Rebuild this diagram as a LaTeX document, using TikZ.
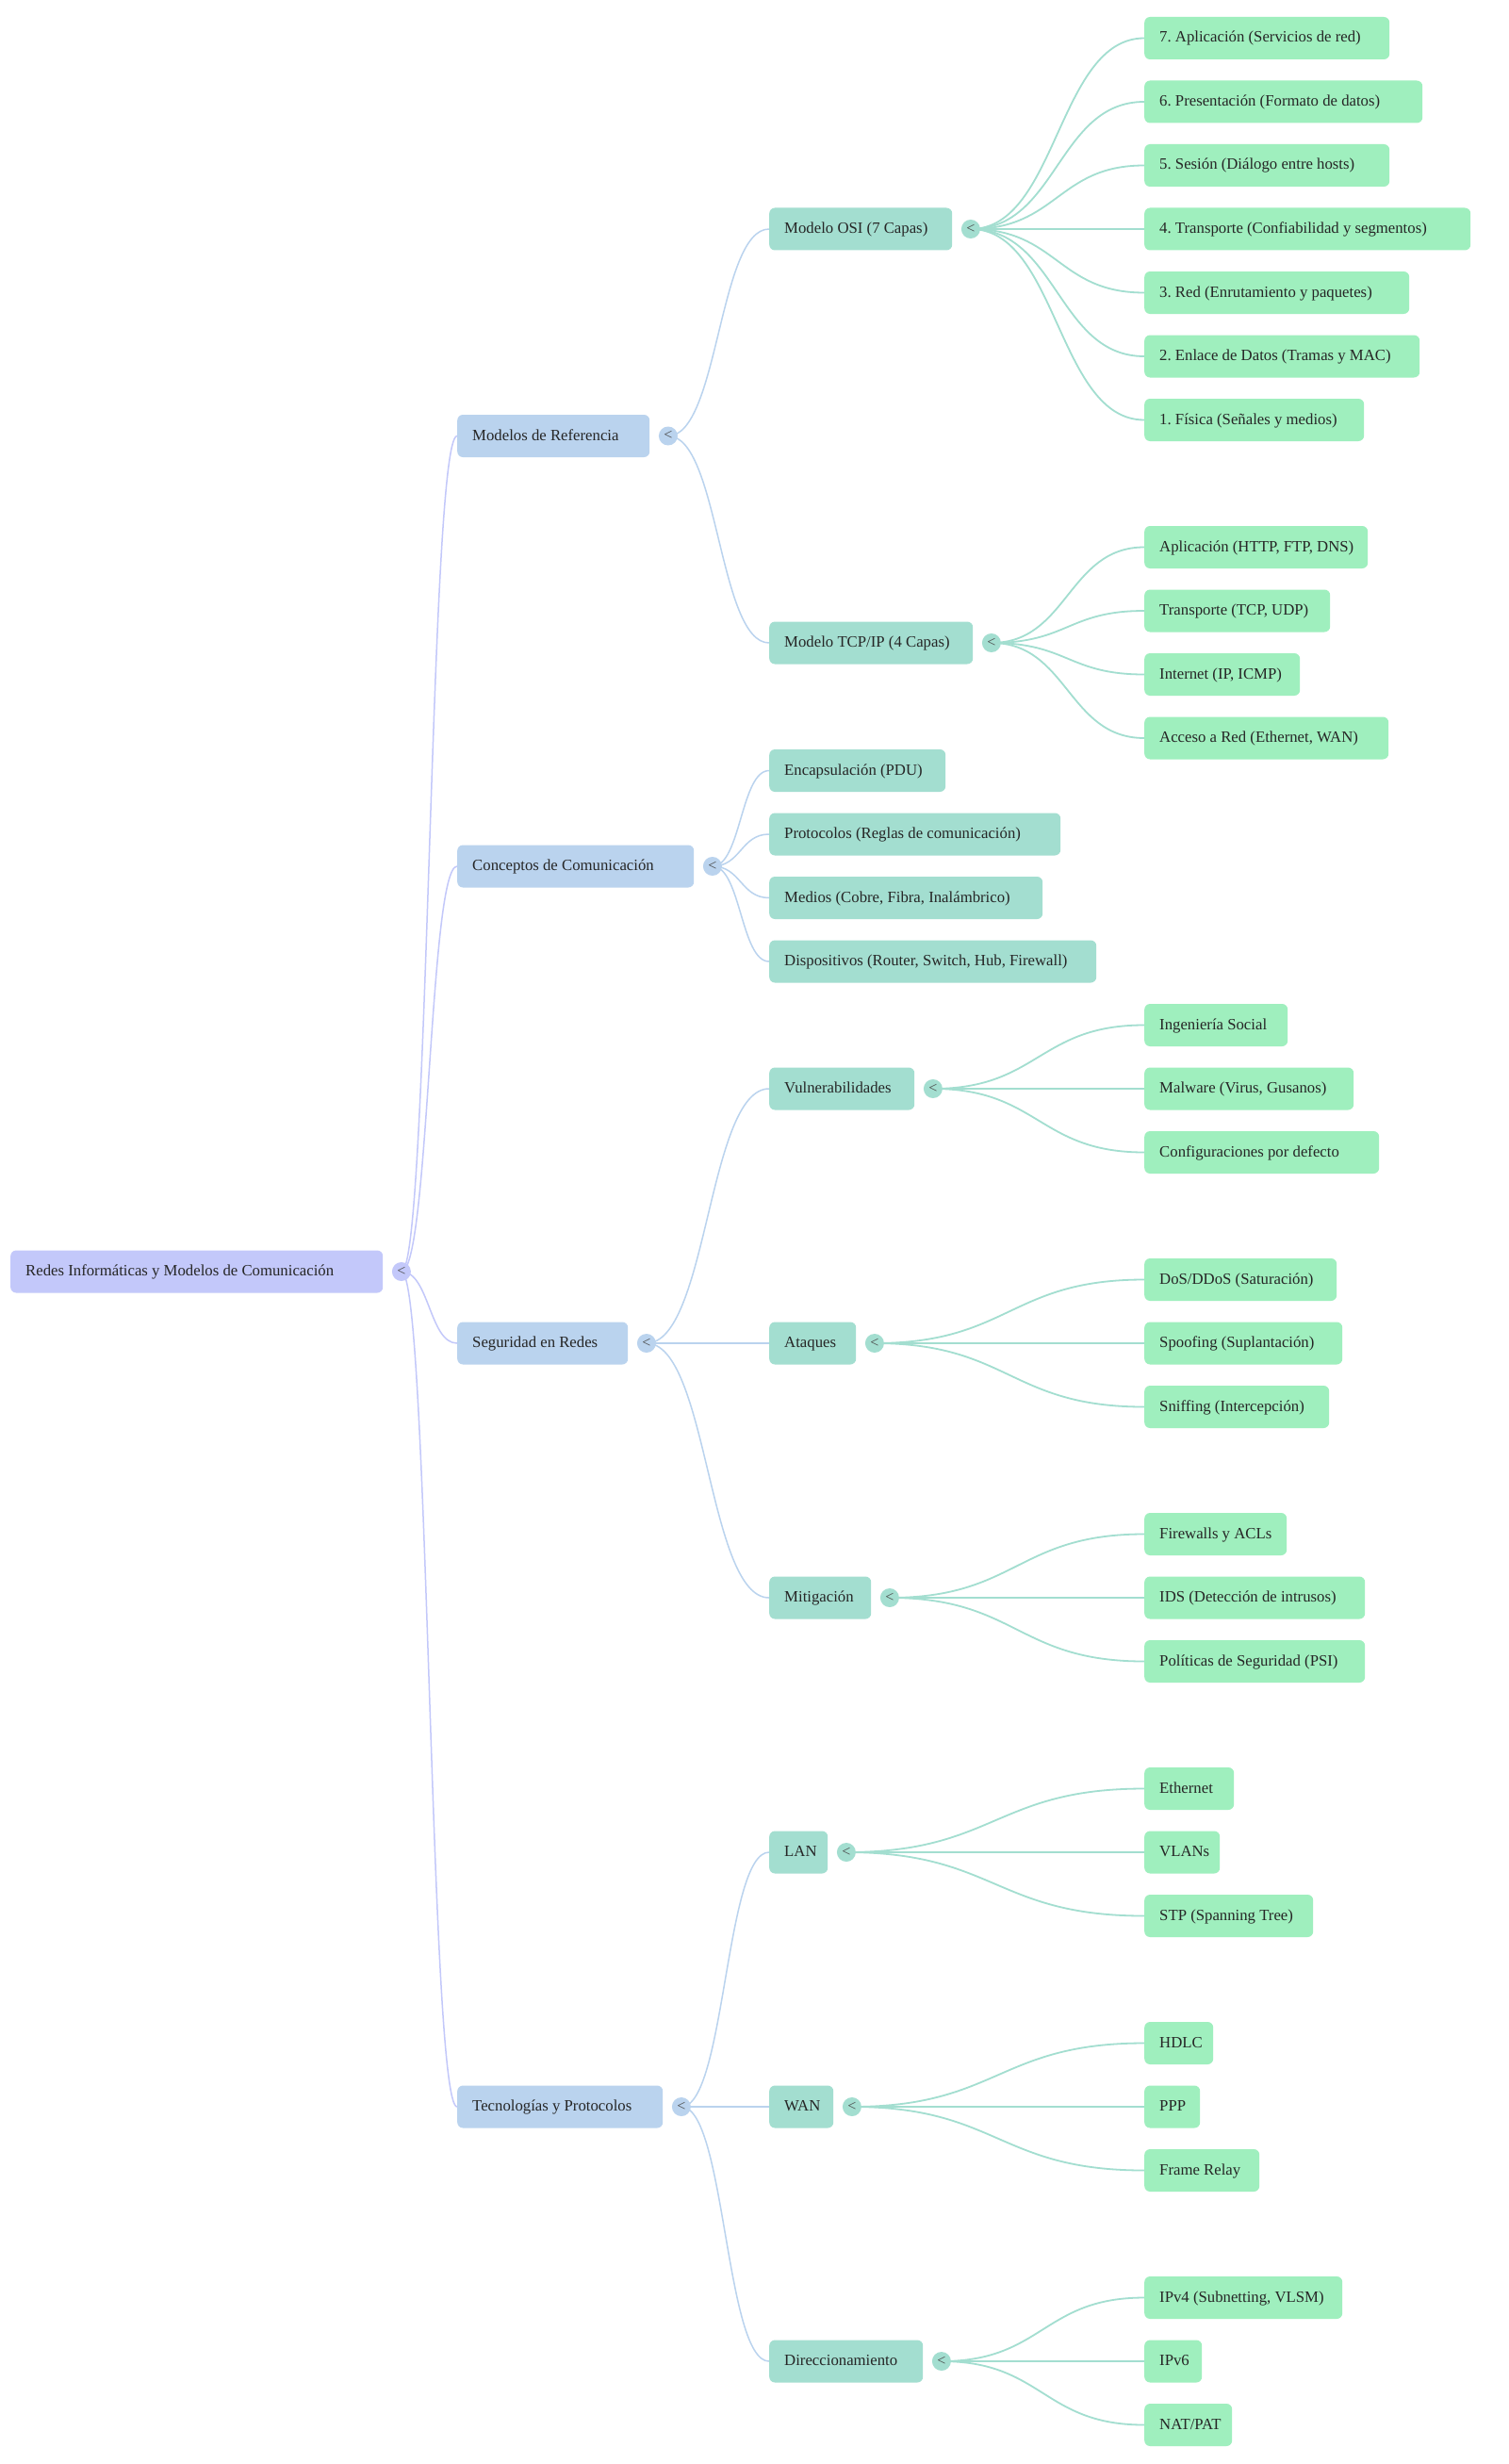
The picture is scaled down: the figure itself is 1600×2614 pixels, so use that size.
\documentclass[tikz,border=0pt]{standalone}
\usepackage{fontspec}
\setmainfont{Liberation Serif}
\usetikzlibrary{calc}
\pgfdeclarelayer{bg}
\pgfsetlayers{bg,main}
\frenchspacing
\definecolor{c0}{HTML}{C3C8FA}
\definecolor{c1}{HTML}{BAD3EE}
\definecolor{c2}{HTML}{A3DED0}
\definecolor{c3}{HTML}{9FEFBE}
\definecolor{txt}{HTML}{262626}
\definecolor{tgt}{HTML}{4A4A4A}
\tikzset{
  box/.style={rounded corners=6pt, inner xsep=0pt, inner ysep=0pt, minimum height=45pt,
    anchor=west, text=txt, font=\fontsize{16.75pt}{20pt}\selectfont},
  n0/.style={box, fill=c0}, n1/.style={box, fill=c1},
  n2/.style={box, fill=c2}, n3/.style={box, fill=c3},
  tg/.style={circle, minimum size=20pt, inner sep=0pt, text=tgt,
    font=\fontsize{16pt}{16pt}\selectfont},
  l0/.style={draw=c0, line width=1.5pt},
  l1/.style={draw=c1, line width=1.5pt},
  l2/.style={draw=c2, line width=1.8pt},
}
\newcommand\bx[2]{\makebox[#1pt][l]{\hspace{16pt}\rule[-4pt]{0pt}{17pt}#2}}
\newcommand\lnk[3]{\draw[#1] let \p1=(#2.center), \p2=(#3.west) in
  (\p1) .. controls ({0.5*\x1+0.5*\x2},\y1) and ({0.5*\x1+0.5*\x2},\y2) .. (\p2);}
\newcommand\tgl[3]{\node[tg, fill=#2] (#1) at ($(#3.east)+(19.5,0)$) {\raisebox{0.5pt}{<}};}
\begin{document}
\begin{tikzpicture}[x=1pt,y=-1pt]
\useasboundingbox (0,0) rectangle (1600,2614);
% root
\node[n0] (root) at (11,1349) {\makebox[395pt][l]{\hspace{16pt}\rule[-4pt]{0pt}{17pt}Redes Informáticas y Modelos de Comunicación}};
% level 1
\node[n1] (m1) at (485,462.5) {\bx{204}{Modelos de Referencia}};
\node[n1] (m2) at (485,919) {\bx{251}{Conceptos de Comunicación}};
\node[n1] (m3) at (485,1425) {\bx{181}{Seguridad en Redes}};
\node[n1] (m4) at (485,2235) {\bx{218}{Tecnologías y Protocolos}};
% level 2
\node[n2] (osi) at (816,243) {\bx{194}{Modelo OSI (7 Capas)}};
\node[n2] (tcp) at (816,682) {\bx{216}{Modelo TCP/IP (4 Capas)}};
\node[n2] (c1) at (816,817.5) {\bx{187}{Encapsulación (PDU)}};
\node[n2] (c2) at (816,885) {\bx{309}{Protocolos (Reglas de comunicación)}};
\node[n2] (c3) at (816,952.5) {\bx{290}{Medios (Cobre, Fibra, Inalámbrico)}};
\node[n2] (c4) at (816,1020) {\bx{347}{Dispositivos (Router, Switch, Hub, Firewall)}};
\node[n2] (vul) at (816,1155) {\bx{154}{Vulnerabilidades}};
\node[n2] (ata) at (816,1425) {\bx{92}{Ataques}};
\node[n2] (mit) at (816,1695) {\bx{108}{Mitigación}};
\node[n2] (lan) at (816,1965) {\bx{62}{LAN}};
\node[n2] (wan) at (816,2235) {\bx{68}{WAN}};
\node[n2] (dir) at (816,2505) {\bx{163}{Direccionamiento}};
% leaves
\node[n3] (o7) at (1214,40.5) {\bx{260}{7. Aplicación (Servicios de red)}};
\node[n3] (o6) at (1214,108) {\bx{295}{6. Presentación (Formato de datos)}};
\node[n3] (o5) at (1214,175.5) {\bx{260}{5. Sesión (Diálogo entre hosts)}};
\node[n3] (o4) at (1214,243) {\bx{346}{4. Transporte (Confiabilidad y segmentos)}};
\node[n3] (o3) at (1214,310.5) {\bx{281}{3. Red (Enrutamiento y paquetes)}};
\node[n3] (o2) at (1214,378) {\bx{292}{2. Enlace de Datos (Tramas y MAC)}};
\node[n3] (o1) at (1214,445.5) {\bx{233}{1. Física (Señales y medios)}};
\node[n3] (t1) at (1214,580.5) {\bx{237}{Aplicación (HTTP, FTP, DNS)}};
\node[n3] (t2) at (1214,648) {\bx{197}{Transporte (TCP, UDP)}};
\node[n3] (t3) at (1214,715.5) {\bx{165}{Internet (IP, ICMP)}};
\node[n3] (t4) at (1214,783) {\bx{259}{Acceso a Red (Ethernet, WAN)}};
\node[n3] (v1) at (1214,1087.5) {\bx{152}{Ingeniería Social}};
\node[n3] (v2) at (1214,1155) {\bx{222}{Malware (Virus, Gusanos)}};
\node[n3] (v3) at (1214,1222.5) {\bx{249}{Configuraciones por defecto}};
\node[n3] (a1) at (1214,1357.5) {\bx{204}{DoS/DDoS (Saturación)}};
\node[n3] (a2) at (1214,1425) {\bx{210}{Spoofing (Suplantación)}};
\node[n3] (a3) at (1214,1492.5) {\bx{196}{Sniffing (Intercepción)}};
\node[n3] (g1) at (1214,1627.5) {\bx{151}{Firewalls y ACLs}};
\node[n3] (g2) at (1214,1695) {\bx{234}{IDS (Detección de intrusos)}};
\node[n3] (g3) at (1214,1762.5) {\bx{234}{Políticas de Seguridad (PSI)}};
\node[n3] (e1) at (1214,1897.5) {\bx{95}{Ethernet}};
\node[n3] (e2) at (1214,1965) {\bx{80}{VLANs}};
\node[n3] (e3) at (1214,2032.5) {\bx{179}{STP (Spanning Tree)}};
\node[n3] (w1) at (1214,2167.5) {\bx{73}{HDLC}};
\node[n3] (w2) at (1214,2235) {\bx{59}{PPP}};
\node[n3] (w3) at (1214,2302.5) {\bx{122}{Frame Relay}};
\node[n3] (d1) at (1214,2437.5) {\bx{210}{IPv4 (Subnetting, VLSM)}};
\node[n3] (d2) at (1214,2505) {\bx{61}{IPv6}};
\node[n3] (d3) at (1214,2572.5) {\bx{93}{NAT/PAT}};
% toggles
\tgl{troot}{c0}{root}
\tgl{tm1}{c1}{m1}
\tgl{tm2}{c1}{m2}
\tgl{tm3}{c1}{m3}
\tgl{tm4}{c1}{m4}
\tgl{tosi}{c2}{osi}
\tgl{ttcp}{c2}{tcp}
\tgl{tvul}{c2}{vul}
\tgl{tata}{c2}{ata}
\tgl{tmit}{c2}{mit}
\tgl{tlan}{c2}{lan}
\tgl{twan}{c2}{wan}
\tgl{tdir}{c2}{dir}
% links
\begin{pgfonlayer}{bg}
\fill[white] (0,0) rectangle (1600,2614);
\foreach \c in {m1,m2,m3,m4}{\lnk{l0}{troot}{\c}}
\foreach \c in {osi,tcp}{\lnk{l1}{tm1}{\c}}
\foreach \c in {c1,c2,c3,c4}{\lnk{l1}{tm2}{\c}}
\foreach \c in {vul,ata,mit}{\lnk{l1}{tm3}{\c}}
\foreach \c in {lan,wan,dir}{\lnk{l1}{tm4}{\c}}
\foreach \c in {o1,o2,o3,o4,o5,o6,o7}{\lnk{l2}{tosi}{\c}}
\foreach \c in {t1,t2,t3,t4}{\lnk{l2}{ttcp}{\c}}
\foreach \c in {v1,v2,v3}{\lnk{l2}{tvul}{\c}}
\foreach \c in {a1,a2,a3}{\lnk{l2}{tata}{\c}}
\foreach \c in {g1,g2,g3}{\lnk{l2}{tmit}{\c}}
\foreach \c in {e1,e2,e3}{\lnk{l2}{tlan}{\c}}
\foreach \c in {w1,w2,w3}{\lnk{l2}{twan}{\c}}
\foreach \c in {d1,d2,d3}{\lnk{l2}{tdir}{\c}}
\end{pgfonlayer}
\end{tikzpicture}
\end{document}
